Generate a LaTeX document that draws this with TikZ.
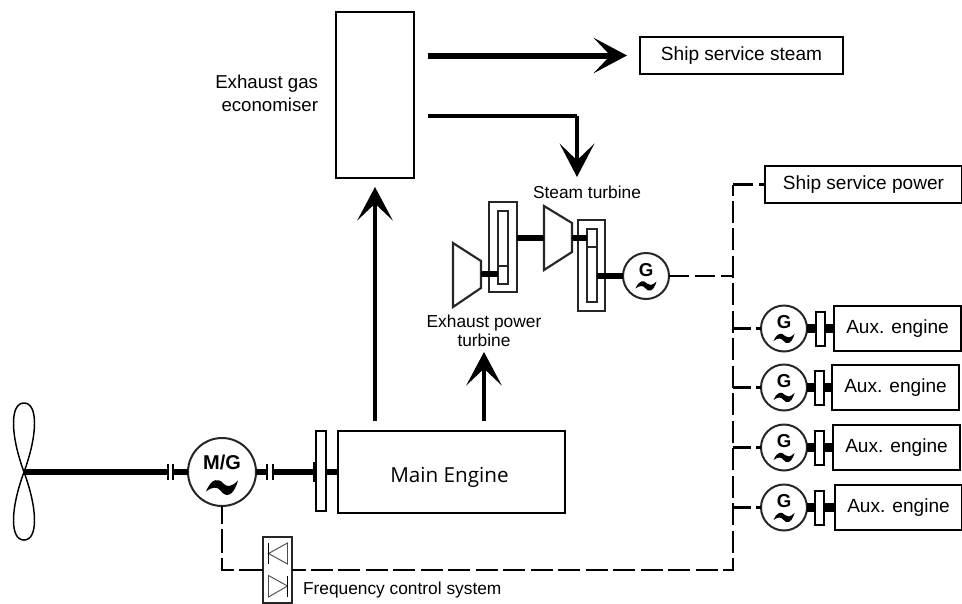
\documentclass[tikz,border=0pt]{standalone}
\usepackage{fontspec}
\setmainfont{Liberation Sans}
\newfontfamily\enginefont{Open Sans}
\usetikzlibrary{arrows.meta,positioning}
\def\px{0.75pt}
\newcommand{\genwave}[4]{\fill[black, shift={(#1)}, shift={(0,#4)},
  xscale=#2, yscale=#3] (-1,.5) .. controls (-.65,-.75) and (-.2,-.75) .. (.1,-.2)
  .. controls (.3,.1) and (.6,.1) .. (1,-.5) .. controls (.7,1.05) and (.2,1.05) .. (-.1,.4)
  .. controls (-.3,.05) and (-.6,.05) .. cycle;}
\newcommand{\shifted}[2]{\smash{\raisebox{#2}{#1}}}

\begin{document}
\begin{tikzpicture}[
  x=\px, y=-\px,
  every node/.style={outer sep=0pt},
  lab/.style={font=\fontsize{13}{14.3}\selectfont, align=center, inner sep=0pt},
  box/.style={draw, line width=1.6pt, align=center, inner sep=0pt,
              font=\fontsize{14.3}{17}\selectfont},
  flange/.style={draw, line width=1.5pt, fill=white, minimum width=9*\px,
                 minimum height=34*\px, inner sep=0pt},
  casing/.style={draw=black!85, line width=1.6pt, fill=white, inner sep=0pt},
  bar/.style={fill=black, inner sep=0pt, minimum width=2.4*\px, minimum height=16*\px},
  gen/.style={circle, draw=black!85, line width=1.5pt, fill=white, minimum size=46*\px, inner sep=0pt,
              font=\bfseries\fontsize{14}{16}\selectfont},
  mgen/.style={circle, draw=black!85, line width=1.5pt, fill=white, minimum size=68*\px, inner sep=0pt,
               font=\bfseries\fontsize{15}{17}\selectfont},
  shaft/.style={line width=4.5pt},
  thinshaft/.style={line width=3.8pt},
  flow/.style={line width=4.5pt, -{Stealth[length=25pt, width=26.5pt, inset=12.5pt]}},
  thinflow/.style={line width=3pt, -{Stealth[length=25pt, width=26pt, inset=12.5pt]}},
  power/.style={line width=2.2pt, dash pattern=on 15pt off 4.5pt},
  blade/.style={line width=1.1pt},
  diode/.style={line width=.7pt, draw=black!70}
]
\useasboundingbox (0,0) rectangle (962,603);

% exhaust gas side
\node[box, minimum width=78*\px, minimum height=166*\px] (eco) at (375,95) {};
\node[lab, anchor=east, font=\fontsize{14}{17.2}\selectfont, align=right] (ecolab) at (318,93.5) {Exhaust gas\\economiser};
\node[box, minimum width=203*\px, minimum height=37*\px] (steam) at (741.5,55.5) {Ship service steam};
\node[box, minimum width=197*\px, minimum height=37*\px] (shipp) at (863.5,184.5) {Ship service power};
\node[box, minimum width=227*\px, minimum height=82*\px] (me) at (451.5,472) {};
\node[box, draw=none, font=\enginefont\fontsize{15.5}{17}\selectfont] (melab) at (449.5,472) {\shifted{Main Engine}{-7.5pt}};

% turbines and gears
\node[casing, minimum width=28*\px, minimum height=90*\px] (gbA) at (503,247) {};
\node[casing, minimum width=10*\px, minimum height=73*\px] (gbAin) at (503,247.5) {};
\node[casing, minimum width=27*\px, minimum height=91*\px] (gbB) at (591.5,265.5) {};
\node[casing, minimum width=10*\px, minimum height=73*\px] (gbBin) at (592,265.5) {};
\node[gen] (g0) at (646,276) {\shifted{G}{0pt}};
\genwave{g0}{10.5}{7}{9}
\coordinate (eptout) at (481,274);
\coordinate (stin) at (544,238);
\coordinate (stout) at (572,238);
\draw[casing] (453,243) -- (481,261) -- (481,288) -- (453,307) -- cycle;
\draw[casing] (544,206) -- (572,223) -- (572,252) -- (544,270) -- cycle;
\draw[thinshaft] (eptout) -- (eptout -| gbAin.west);
\draw[thinshaft] (gbA.east |- stin) -- (stin);
\draw[thinshaft] (stout) -- (stout -| gbBin.west);
\draw[thinshaft] (g0 -| gbBin.east) -- (g0);
\draw[line width=1.5pt, black!85] (gbAin.west |- 0,266) -- (gbAin.east |- 0,266);
\draw[line width=1.5pt, black!85] (gbBin.west |- 0,247) -- (gbBin.east |- 0,247);
\node[lab] (stlab) at (587,192) {Steam turbine};
\node[lab] (eptlab) at (484,330.5) {Exhaust power\\turbine};

% propeller line
\node[mgen] (mg) at (222,472) {\shifted{M/G}{2pt}};
\genwave{mg}{16}{11}{14}
\coordinate (hub) at (24,472);
\coordinate (tipA) at (24,403);
\coordinate (tipB) at (24,540);
\node[bar] (cA) at (167.7,472) {};
\node[bar] (cB) at (172.9,472) {};
\node[bar] (cC) at (266.7,472) {};
\node[bar] (cD) at (272.9,472) {};
\node[flange, minimum width=9.5*\px, minimum height=80*\px] (fl) at (321,471) {};
\node[fill=black, inner sep=0pt, minimum width=3.5*\px, minimum height=20*\px] (flhub) at (315,472) {};
\draw[shaft] (hub) -- (cA);
\draw[shaft] (cB) -- (mg);
\draw[shaft] (mg) -- (cC);
\draw[shaft] (cD) -- (flhub);
\draw[shaft] (fl.east |- me) -- (me);
\draw[blade] (hub) .. controls +(-14,-38) and +(-14,0) .. (tipA) .. controls +(14,0) and +(14,-38) .. (hub);
\draw[blade] (hub) .. controls +(-14,38) and +(-14,0) .. (tipB) .. controls +(14,0) and +(14,38) .. (hub);

% flows
\draw[flow, shorten <=14*\px, shorten >=13*\px] (eco.east |- steam) -- (steam);
\coordinate (stsup) at (577,116);
\coordinate (stend) at (577,177);
\coordinate (gasup) at (375,431);
\coordinate (eptup) at (484,431);
\coordinate (eptend) at (484,352);
\draw[line width=3pt, shorten <=14*\px] (eco.east |- stsup) -- (stsup);
\draw[thinflow] (stsup) -- (stend);
\draw[flow, line width=3.6pt, shorten <=10*\px, shorten >=9*\px] (gasup) -- (gasup |- eco.south);
\draw[flow, line width=3.6pt, shorten <=10*\px] (eptup) -- (eptend);

% aux engines
\node[box, minimum width=127*\px, minimum height=45*\px] (aeA) at (897.5,328.5) {Aux. engine};
\node[gen, left=27*\px of aeA] (gA) {\shifted{G}{0pt}};
\genwave{gA}{10.5}{7}{9}
\draw[shaft, line width=6.5pt] (gA) -- (aeA);
\node[flange, left=9*\px of aeA] (flA) {};
\node[box, minimum width=127*\px, minimum height=45*\px] (aeB) at (895.5,387.5) {Aux. engine};
\node[gen, left=25*\px of aeB] (gB) {\shifted{G}{0pt}};
\genwave{gB}{10.5}{7}{9}
\draw[shaft, line width=6.5pt] (gB) -- (aeB);
\node[flange, left=8*\px of aeB] (flB) {};
\node[box, minimum width=127*\px, minimum height=45*\px] (aeC) at (896.5,447.5) {Aux. engine};
\node[gen, left=26*\px of aeC] (gC) {\shifted{G}{0pt}};
\genwave{gC}{10.5}{7}{9}
\draw[shaft, line width=6.5pt] (gC) -- (aeC);
\node[flange, left=9*\px of aeC] (flC) {};
\node[box, minimum width=127*\px, minimum height=45*\px] (aeD) at (898.5,507.5) {Aux. engine};
\node[gen, left=28*\px of aeD] (gD) {\shifted{G}{0pt}};
\genwave{gD}{10.5}{7}{9}
\draw[shaft, line width=6.5pt] (gD) -- (aeD);
\node[flange, left=11*\px of aeD] (flD) {};

% frequency control
\node[casing, line width=1.9pt, minimum width=29*\px, minimum height=66*\px] (fcs) at (277.5,570) {};
\draw[diode] (268.5,553.5) -- (287.5,543) -- (287.5,564) -- cycle;
\draw[line width=1pt] (268.5,543) -- (268.5,564);
\draw[diode] (268.5,575.5) -- (268.5,597) -- (287.5,586) -- cycle;
\draw[line width=1pt] (287.5,575.5) -- (287.5,597);
\node[lab, anchor=west] (fcslab) at (303,590) {Frequency control system};

% electric network
\coordinate (bus) at (733,184.5);
\draw[power, dash pattern=on 16.5pt off 4.1pt, dash phase=8.25pt] (bus) -- (bus |- fcs) -- (fcs);
\draw[power] (bus) -- (shipp);
\draw[power] (g0) -- (bus |- g0);
\draw[power, dash pattern=on 13.5pt off 3.8pt] (bus |- gA) -- (gA);
\draw[power, dash pattern=on 13.5pt off 3.8pt] (bus |- gB) -- (gB);
\draw[power, dash pattern=on 13.5pt off 3.8pt] (bus |- gC) -- (gC);
\draw[power, dash pattern=on 13.5pt off 3.8pt] (bus |- gD) -- (gD);
\draw[power, dash pattern=on 18pt off 3.8pt] (fcs) -- (fcs -| mg) -- (mg);
\end{tikzpicture}
\end{document}
